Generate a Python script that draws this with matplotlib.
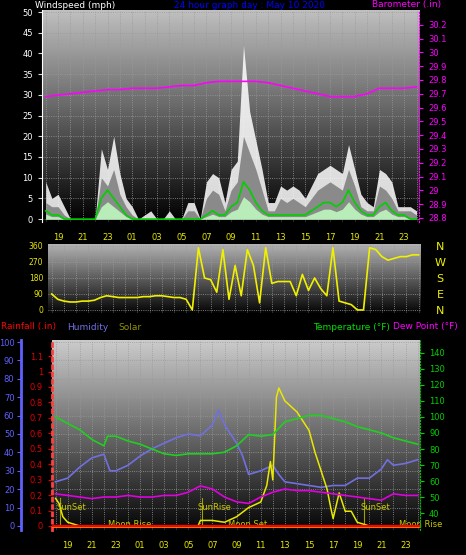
import numpy as np
import matplotlib
matplotlib.use('Agg')
import matplotlib.pyplot as plt

plt.rcParams['font.family'] = 'DejaVu Sans'
W, H = 466, 555

# hours since midnight of the previous day (18 = 18:00, 48 = 24:00 next day)
t_half = np.arange(18, 48.01, 0.5)
gust = [9, 5, 6, 3, 0, 0, 0, 0, 0, 17, 12, 20, 11, 5, 3, 0, 1, 2, 0, 0, 2, 0, 0, 4, 4, 0,
        9, 11, 10, 4, 12, 14, 42, 26, 19, 12, 4, 4, 8, 7, 8, 7, 5, 8, 11, 12, 13, 12, 11, 18,
        12, 6, 4, 3, 12, 11, 9, 3, 3, 3, 2]
speed = [4, 3, 3, 1, 0, 0, 0, 0, 0, 10, 8, 12, 6, 3, 1, 0, 0, 0, 0, 0, 0, 0, 0, 2, 2, 0,
         5, 7, 6, 2, 7, 9, 20, 16, 12, 7, 2, 2, 5, 4, 5, 4, 3, 5, 7, 8, 9, 8, 7, 12,
         8, 3, 2, 2, 8, 7, 5, 2, 2, 2, 1]
avg = [2, 1, 1, 0, 0, 0, 0, 0, 0, 5, 7, 5, 3, 1, 0, 0, 0, 0, 0, 0, 0, 0, 0, 0, 0, 0,
       1, 2, 1, 1, 3, 4, 9, 7, 4, 2, 1, 1, 1, 1, 1, 1, 1, 2, 3, 4, 4, 3, 4, 7,
       4, 2, 1, 1, 3, 4, 2, 1, 1, 0, 0]

t_hour = np.arange(18, 48.01, 1.0)
baro = [29.68, 29.69, 29.70, 29.71, 29.72, 29.73, 29.73, 29.74, 29.74, 29.74, 29.75, 29.76,
        29.76, 29.78, 29.79, 29.79, 29.79, 29.79, 29.78, 29.76, 29.74, 29.72, 29.70, 29.68,
        29.68, 29.68, 29.70, 29.74, 29.74, 29.74, 29.75]

direction = [90, 60, 50, 45, 45, 50, 50, 55, 70, 80, 75, 70, 70, 70, 70, 75, 75, 80, 80, 75,
             70, 70, 60, 0, 350, 180, 170, 100, 340, 60, 250, 80, 340, 250, 40, 350, 150, 160,
             160, 160, 80, 200, 110, 180, 120, 80, 350, 50, 40, 30, 0, 0, 350, 340, 300, 280,
             290, 300, 300, 310, 310]

t_temp = [18, 19, 20, 21, 22, 22.3, 23, 24, 25, 26, 27, 28, 29, 30, 31, 32, 33, 34, 35, 36,
          37, 38, 39, 40, 41, 42, 43, 44, 45, 46, 47, 48]
temp = [100, 96, 92, 86, 82, 88, 88, 85, 83, 80, 77, 76, 77, 77, 77, 78, 82, 89, 88, 89,
        97, 99, 101, 101, 99, 97, 94, 92, 90, 87, 85, 83]
dew = [52, 51, 50, 49, 50, 50, 50, 51, 50, 50, 51, 51, 53, 57, 55, 50, 47, 46, 50, 53,
       55, 54, 54, 53, 52, 51, 50, 49, 48, 52, 51, 51]

t_hum = [18, 19, 20, 21, 22, 22.5, 23, 24, 25, 26, 27, 28, 29, 30, 31, 31.5, 32, 33, 33.5, 34,
         35, 36, 36.5, 37, 38, 39, 40, 41, 42, 43, 44, 45, 45.5, 46, 47, 48]
hum = [24, 26, 32, 37, 39, 30, 30, 33, 38, 42, 45, 48, 50, 49, 55, 63, 55, 45, 38, 28,
       30, 33, 28, 24, 23, 22, 21, 22, 22, 26, 26, 31, 36, 33, 34, 36]

t_sol = [18, 18.3, 18.6, 19, 20, 29.8, 30, 31, 32, 33, 34, 35, 35.5, 35.8, 36, 36.3, 36.5, 37,
         38, 39, 39.5, 40, 40.5, 40.8, 41, 41.5, 42, 42.5, 43, 44, 48]
solar = [15, 12, 5, 2, 0, 0, 3, 3, 2, 5, 10, 13, 22, 35, 25, 70, 75, 68, 62, 52, 40, 30, 20,
         10, 4, 18, 8, 8, 2, 0, 0]

events = [(18.1, 'SunSet', 'top'), (29.8, 'SunRise', 'top'), (43.3, 'SunSet', 'top'),
          (22.3, 'Moon Rise', 'bot'), (32.3, 'Moon Set', 'bot'), (46.5, 'Moon Rise', 'bot')]

ticks = np.arange(19, 48, 2)
ticklabels = ['%02d' % (h % 24) for h in ticks]
fs = 6


def rect(x0, y0, x1, y1):
    return [x0 / W, 1 - y1 / H, (x1 - x0) / W, (y1 - y0) / H]


def backdrop(ax, top, bottom):
    g = np.linspace(top, bottom, 200).reshape(-1, 1)
    ax.imshow(g, cmap='gray', vmin=0, vmax=1, aspect='auto', extent=[0, 1, 0, 1],
              transform=ax.transAxes, zorder=0)
    ax.set_xlim(17.7, 48.2)
    ax.set_xticks(np.arange(18, 49, 1), minor=True)
    ax.grid(True, which='both', axis='x', color='#9a9a9a', ls=':', lw=0.6)
    ax.grid(True, which='major', axis='y', color='#9a9a9a', ls=':', lw=0.6)
    for s in ax.spines.values():
        s.set_visible(False)


fig = plt.figure(figsize=(W / 100, H / 100), dpi=100, facecolor='black')

# --- wind / barometer ---
ax1 = fig.add_axes(rect(42, 10, 419, 222))
backdrop(ax1, 0.75, 0.0)
ax1.fill_between(t_half, 0, gust, color='#ffffff', lw=0, alpha=0.85, zorder=2)
ax1.fill_between(t_half, 0, speed, color='#8a8a8a', lw=0, zorder=3)
ax1.fill_between(t_half, 0, np.array(avg) * 0.6, color='#b8ecb8', lw=0, zorder=3)
ax1.plot(t_half, avg, color='#00d000', lw=1.2, zorder=4)
ax1.set_ylim(-0.7, 50.5)
ax1.set_yticks(range(0, 51, 5))
ax1.set_xticks(ticks)
ax1.set_xticklabels(ticklabels)
ax1.tick_params(axis='x', colors='#e8e800', labelsize=fs, length=0, pad=8)
ax1.tick_params(axis='y', colors='#d8d8d8', labelsize=fs, length=3)
ax1.tick_params(axis='y', labelcolor='white')
ax1.spines['left'].set_visible(True)
ax1.spines['left'].set_color('white')
ax1b = ax1.twinx()
ax1b.plot(t_hour, baro, color='#ff00ff', lw=1.2, zorder=5)
ax1b.set_ylim(28.771, 30.307)
ax1b.set_yticks(np.round(np.arange(28.8, 30.21, 0.1), 1))
ax1b.set_yticklabels(['%g' % v for v in np.round(np.arange(28.8, 30.21, 0.1), 1)])
ax1b.tick_params(axis='y', colors='#ff00ff', labelsize=fs, length=3)
for s in ax1b.spines.values():
    s.set_visible(False)
ax1b.spines['right'].set_visible(True)
ax1b.spines['right'].set_color('#ff00ff')
ax1b.spines['right'].set_linestyle(':')

# --- wind direction ---
ax2 = fig.add_axes(rect(48, 244, 421, 313))
backdrop(ax2, 0.7, 0.02)
ax2.plot(t_half, direction, color='#f0f000', lw=1.2, zorder=3)
ax2.set_ylim(-17, 371)
ax2.set_yticks([0, 90, 180, 270, 360])
ax2.set_xticks([])
ax2.tick_params(axis='y', colors='#e8e800', labelsize=fs - 0.5, length=0)
for y, l in zip([247, 263, 279, 295, 311], 'NWSEN'):
    fig.text(440 / W, 1 - y / H, l, color='#f0f000', fontsize=8, ha='center', va='center')

# --- temperature / humidity ---
ax3 = fig.add_axes(rect(52, 340, 420, 530))
backdrop(ax3, 0.8, 0.02)
ax3.set_ylim(-2.2, 101.1)
ax3.set_yticks(range(0, 101, 10))
ax3.plot(t_hum, hum, color='#7070e0', lw=1.2, zorder=4)
ax3.plot(t_sol, solar, color='#e8e800', lw=1.1, zorder=5)
ax3.set_xticks(ticks)
ax3.set_xticklabels(ticklabels)
ax3.tick_params(axis='x', colors='#e8e800', labelsize=fs, length=0, pad=8)
ax3.tick_params(axis='y', colors='#6060ff', labelsize=fs, length=3, pad=2)
ax3.spines['left'].set_visible(True)
ax3.spines['left'].set_position(('outward', 22))
ax3.spines['left'].set_color('#6060ff')
ax3.spines['left'].set_linewidth(2)
for x, lab, pos in events:
    if pos == 'top':
        ax3.axvline(x + 0.3, ymin=0.02, ymax=0.17, color='#a0a000', lw=0.8, zorder=3)
        ax3.text(x, 10, lab, color='#c8c800', fontsize=fs, va='center', zorder=6)
    else:
        ax3.text(x, 1, lab, color='#c8c800', fontsize=fs, va='center', zorder=6)

axr = ax3.twinx()
axr.set_ylim(-0.026, 1.204)
axr.set_yticks(np.round(np.arange(0, 1.11, 0.1), 1))
axr.set_yticklabels(['%g' % v for v in np.round(np.arange(0, 1.11, 0.1), 1)])
axr.yaxis.set_ticks_position('left')
axr.yaxis.set_label_position('left')
axr.tick_params(axis='y', colors='#e00000', labelsize=fs, length=3)
axr.plot([17.7, 48.2], [0.003, 0.003], color='#ff9900', lw=2, zorder=5)
axr.plot([17.7, 48.2], [0.0, 0.0], color='#ff0000', lw=1.6, zorder=6)
for s in axr.spines.values():
    s.set_visible(False)
axr.spines['left'].set_visible(True)
axr.spines['left'].set_color('#ff4040')
axr.spines['left'].set_linestyle(':')
axr.spines['left'].set_linewidth(2)

axt = ax3.twinx()
axt.set_ylim(29.4, 148.1)
axt.set_yticks(range(40, 141, 10))
axt.plot(t_temp, temp, color='#20d020', lw=1.2, zorder=4)
axt.plot(t_temp, dew, color='#e000e0', lw=1.2, zorder=4)
axt.tick_params(axis='y', colors='#00d000', labelsize=fs, length=3)
for s in axt.spines.values():
    s.set_visible(False)
axt.spines['right'].set_visible(True)
axt.spines['right'].set_color('#00c000')
axt.spines['right'].set_linestyle(':')

# --- titles ---
tfs = 6.5
ty = 1 - 5 / H
fig.text(35 / W, ty, 'Windspeed (mph)', color='white', fontsize=tfs, va='center')
fig.text(250 / W, ty, '24 hour graph day : May 10 2020', color='#0000ff', fontsize=tfs,
         va='center', ha='center')
fig.text(372 / W, ty, 'Barometer (.in)', color='#ff00ff', fontsize=tfs, va='center')
by = 1 - 327 / H
fig.text(1 / W, by, 'Rainfall (.in)', color='#ff0000', fontsize=tfs, va='center')
fig.text(67 / W, by, 'Humidity', color='#7070e0', fontsize=tfs, va='center')
fig.text(118 / W, by, 'Solar', color='#909000', fontsize=tfs, va='center')
fig.text(313 / W, by, 'Temperature (°F)', color='#00e000', fontsize=tfs, va='center')
fig.text(393 / W, by, 'Dew Point (°F)', color='#ff00ff', fontsize=tfs, va='center')

fig.savefig('out.png', dpi=100, facecolor='black')
